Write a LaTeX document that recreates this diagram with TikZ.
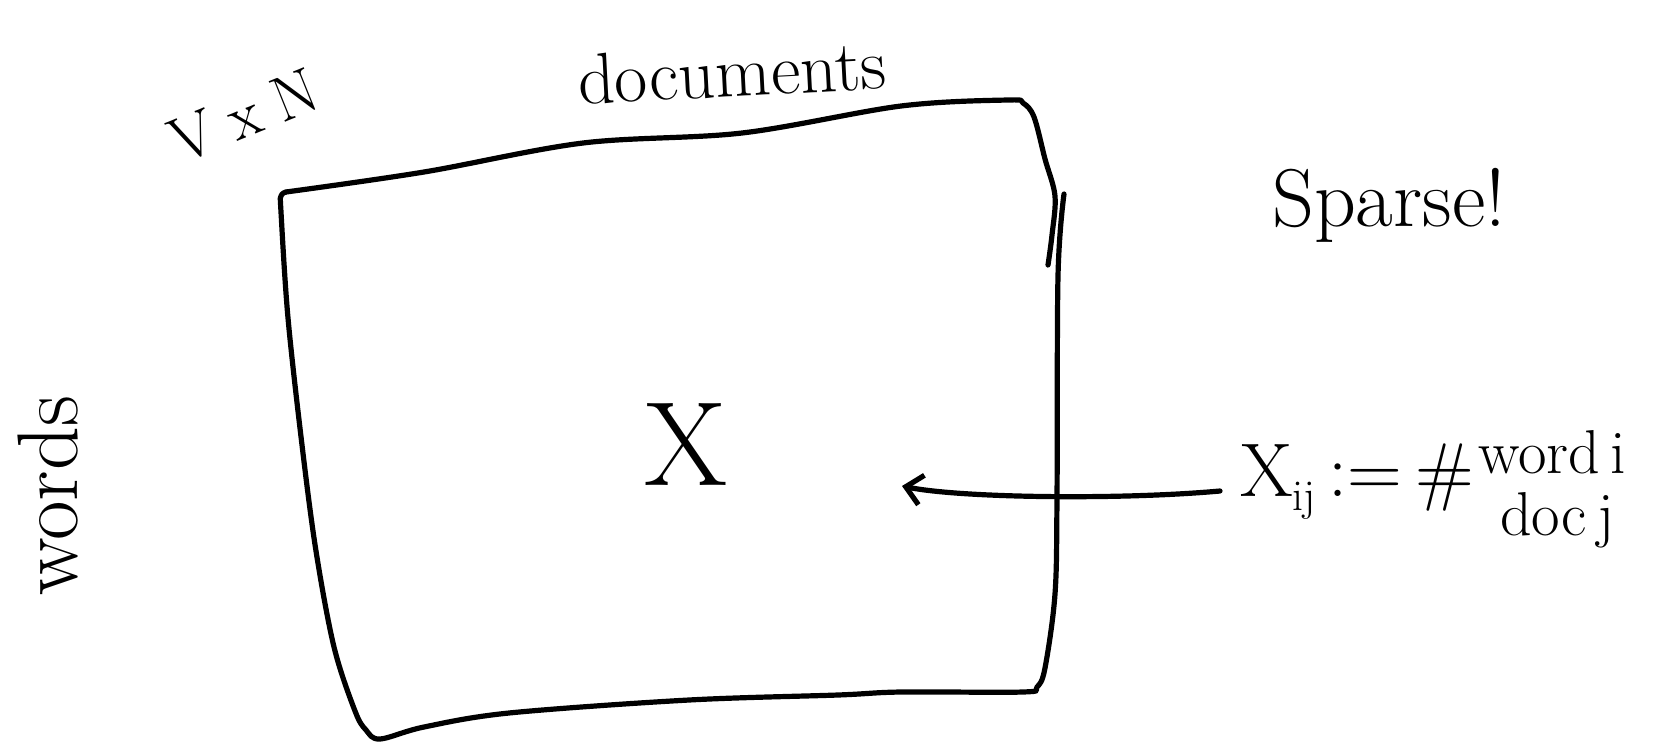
\documentclass[tikz,border=0pt]{standalone}
\usetikzlibrary{arrows.meta}
\begin{document}
\begin{tikzpicture}[x=1pt,y=-1pt,
  pen/.style={line width=5.2pt, line cap=round, line join=round},
  hand/.style={inner sep=0pt, font=\fontsize{66}{72}\selectfont},
  tip/.style={-{Straight Barb[length=16pt,width=30pt,line width=5.2pt]}}]
\useasboundingbox (0,0) rectangle (1663,745);
% matrix box: first stroke (top edge and right upper part)
\draw[pen] plot[smooth, tension=0.55] coordinates {
  (286,192) (424,172) (583,143) (742,133) (901,106) (1008,100)
  (1023,103) (1034,117) (1045,159) (1055,196) (1052,235) (1048,265)};
% second stroke: right edge, bottom, left edge
\draw[pen] plot[smooth, tension=0.55] coordinates {
  (1064,194) (1058,276) (1057,498) (1055,594) (1045,668) (1037,687)
  (1023,692) (901,692) (838,695) (689,700) (509,713) (424,727)
  (380,739) (366,730) (355,711) (334,647) (316,551) (302,445)
  (288,318) (281,212) (281,196) (286,192)};
% labels
\node[hand] (X) at (686,445) {\fontsize{120}{130}\selectfont X};
\node[hand, rotate=3, font=\fontsize{72}{80}\selectfont] (docs) at (732,72) {documents};
\node[hand, rotate=22, font=\fontsize{64}{70}\selectfont] (VxN) at (244,116) {V\;x\;N};
\node[hand, rotate=90, font=\fontsize{86}{90}\selectfont] (words) at (48,496) {words};
\node[hand, font=\fontsize{82}{90}\selectfont] (sparse) at (1389,205) {Sparse!};
\node[hand, anchor=west, font=\fontsize{76}{80}\selectfont] (xij) at (1240,482)
  {X\raisebox{-14pt}{\fontsize{44}{48}\selectfont ij}\,:=\,\#};
\node[hand, anchor=north west, align=left, font=\fontsize{62}{66}\selectfont] (wd) at ([xshift=4pt,yshift=14pt]xij.north east) {word\,i\\[-4pt]\hspace{22pt}doc\,j};
\coordinate (arrtip) at (902,486);
\draw[pen, tip] (xij.west) ++(-20,9) coordinate (arrtail)
  (arrtail) .. controls (1120,500) and (960,498) .. (arrtip);
\end{tikzpicture}
\end{document}
